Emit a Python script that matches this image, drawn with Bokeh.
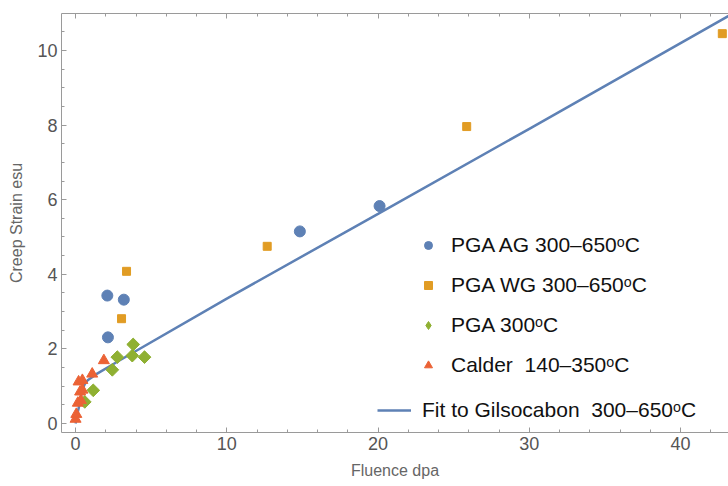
import math
from bokeh.plotting import figure
from bokeh.models import (Range1d, Legend, LegendItem, SingleIntervalTicker,
                          LinearAxis, CustomJSTickFormatter)
from bokeh.embed import file_html
from bokeh.resources import INLINE

# ---- data ----
ag_x = [2.10, 2.14, 3.19, 14.83, 20.1]
ag_y = [3.43, 2.31, 3.32, 5.15, 5.83]

wg_x = [3.04, 3.37, 12.67, 25.86, 42.76]
wg_y = [2.81, 4.08, 4.75, 7.96, 10.45]

pga300_x = [0.61, 1.17, 2.43, 2.76, 3.75, 3.81, 4.56]
pga300_y = [0.58, 0.89, 1.44, 1.78, 1.82, 2.12, 1.78]

calder_x = [0.0, 0.05, 0.15, 0.35, 0.3, 0.45, 0.2, 0.45, 1.10, 1.87]
calder_y = [0.12, 0.25, 0.55, 0.62, 0.85, 0.9, 1.12, 1.16, 1.33, 1.69]

fit_x = [0.0, 0.1, 0.22, 0.43, 0.6, 0.8, 1.4, 2.9, 10.0, 20.0, 30.0, 43.5]
fit_y = [0.0, 0.22, 0.44, 0.88, 1.05, 1.16, 1.33, 1.69, 3.35, 5.62, 7.90, 11.0]

labels = ["PGA AG 300\u2013650\u1d52C", "PGA WG 300\u2013650\u1d52C",
          "PGA 300\u1d52C", "Calder  140\u2013350\u1d52C",
          "Fit to Gilsocabon  300\u2013650\u1d52C"]

BLUE = "#5E81B5"
ORANGE = "#E19C24"
GREEN = "#8FB032"
RED = "#EB6235"
FONT = "Liberation Sans"

p = figure(width=728, height=486, output_backend="svg", toolbar_location=None,
           x_range=Range1d(-0.93, 43.17), y_range=Range1d(-0.24, 10.99),
           min_border_left=61, min_border_right=0, min_border_top=13,
           min_border_bottom=54)
p.outline_line_color = None
p.grid.visible = False
p.background_fill_color = "white"

fit = p.line(fit_x, fit_y, line_color=BLUE, line_width=2.5)
r_ag = p.scatter(ag_x, ag_y, marker="circle", size=11, color=BLUE)
r_wg = p.scatter(wg_x, wg_y, marker="square", size=8, color=ORANGE)
# legend swatch for the diamond series (Bokeh legends do not rotate markers);
# drawn underneath the rotated squares, which cover it completely
r_p3_key = p.scatter(pga300_x, pga300_y, marker="diamond", size=11, color=GREEN)
r_p3 = p.scatter(pga300_x, pga300_y, marker="square", size=9, angle=math.pi / 4,
                 color=GREEN)
r_ca = p.scatter(calder_x, calder_y, marker="triangle", size=11, color=RED)

bottom = p.below[0]
left = p.left[0]
top = LinearAxis(ticker=SingleIntervalTicker(interval=10, num_minor_ticks=5),
                 formatter=CustomJSTickFormatter(code="return ''"),
                 major_label_text_font_size="0px", major_label_standoff=0)
p.add_layout(top, "above")

for ax in (bottom, left, top):
    ax.axis_line_color = "#9a9a9a"
    ax.major_tick_line_color = "#9a9a9a"
    ax.minor_tick_line_color = "#9a9a9a"
    ax.major_tick_in = 5
    ax.major_tick_out = 0
    ax.minor_tick_in = 3
    ax.minor_tick_out = 0

for ax in (bottom, left):
    ax.major_label_text_font = FONT
    ax.major_label_text_font_size = "18px"
    ax.major_label_text_color = "#555555"
    ax.axis_label_text_font = FONT
    ax.axis_label_text_font_size = "16px"
    ax.axis_label_text_font_style = "normal"
    ax.axis_label_text_color = "#666666"

bottom.ticker = SingleIntervalTicker(interval=10, num_minor_ticks=5)
left.ticker = SingleIntervalTicker(interval=2, num_minor_ticks=4)
bottom.axis_label = "Fluence dpa"
left.axis_label = "Creep Strain esu"
bottom.major_label_standoff = 4
left.major_label_standoff = 4
bottom.axis_label_standoff = 9
left.axis_label_standoff = 9

leg1 = Legend(items=[LegendItem(label=labels[0], renderers=[r_ag]),
                     LegendItem(label=labels[1], renderers=[r_wg]),
                     LegendItem(label=labels[2], renderers=[r_p3_key]),
                     LegendItem(label=labels[3], renderers=[r_ca])],
              location=(357, 55), padding=0, margin=0, spacing=16,
              glyph_width=20, glyph_height=20, label_height=20, label_standoff=13,
              label_text_font=FONT, label_text_font_size="21px",
              label_text_color="#111111", border_line_alpha=0,
              background_fill_alpha=0)
leg2 = Legend(items=[LegendItem(label=labels[4], renderers=[fit])],
              location=(316, 10), padding=0, margin=0,
              glyph_width=34, glyph_height=20, label_standoff=11,
              label_text_font=FONT, label_text_font_size="21px",
              label_text_color="#111111", border_line_alpha=0,
              background_fill_alpha=0)
p.add_layout(leg1, "center")
p.add_layout(leg2, "center")

open("out.html", "w").write(file_html(p, INLINE))
